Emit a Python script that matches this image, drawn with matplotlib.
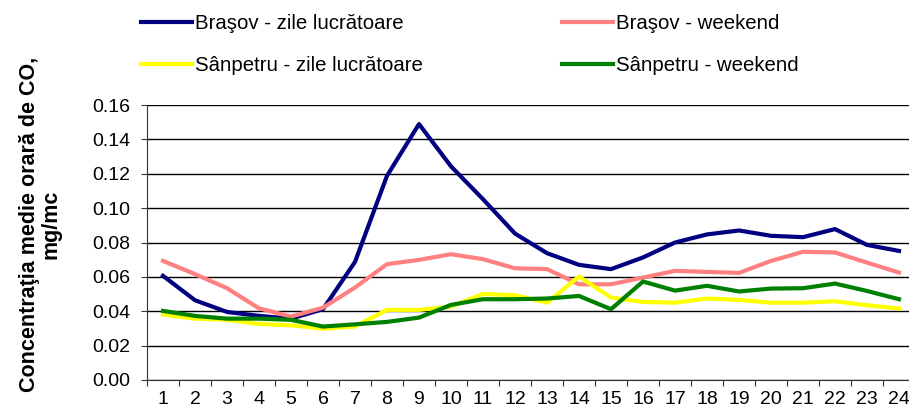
import numpy as np
import matplotlib.pyplot as plt

plt.rcParams['font.family'] = ['Liberation Sans', 'DejaVu Sans']

hours = [str(h) for h in range(1, 25)]

brasov_work = [0.0606, 0.0464, 0.0396, 0.0373, 0.0357, 0.0412, 0.0687, 0.1188,
               0.1489, 0.1243, 0.1052, 0.0852, 0.0738, 0.0670, 0.0645, 0.0713,
               0.0800, 0.0847, 0.0870, 0.0839, 0.0831, 0.0878, 0.0786, 0.0751]
brasov_weekend = [0.0693, 0.0616, 0.0534, 0.0417, 0.0369, 0.0421, 0.0538, 0.0674,
                  0.0699, 0.0732, 0.0703, 0.0650, 0.0645, 0.0557, 0.0557, 0.0596,
                  0.0635, 0.0629, 0.0623, 0.0693, 0.0746, 0.0742, 0.0683, 0.0625]
sanpetru_work = [0.0381, 0.0357, 0.0350, 0.0326, 0.0318, 0.0299, 0.0311, 0.0408,
                 0.0408, 0.0427, 0.0501, 0.0493, 0.0450, 0.0602, 0.0480, 0.0454,
                 0.0450, 0.0474, 0.0466, 0.0450, 0.0450, 0.0458, 0.0435, 0.0416]
sanpetru_weekend = [0.0402, 0.0373, 0.0357, 0.0357, 0.0350, 0.0311, 0.0324, 0.0338,
                    0.0363, 0.0437, 0.0470, 0.0470, 0.0474, 0.0489, 0.0412, 0.0573,
                    0.0520, 0.0548, 0.0515, 0.0532, 0.0534, 0.0561, 0.0518, 0.0470]

fig = plt.figure(figsize=(9.09, 4.08), dpi=100)
ax = fig.add_axes([147 / 909, 28 / 408, 768 / 909, 275 / 408])

x = np.arange(len(hours))
l1, = ax.plot(x, brasov_work, color='#000080', lw=3, label='Braşov - zile lucrătoare')
l2, = ax.plot(x, brasov_weekend, color='#FF8080', lw=3, label='Braşov - weekend')
l3, = ax.plot(x, sanpetru_work, color='#FFFF00', lw=3, label='Sânpetru - zile lucrătoare')
l4, = ax.plot(x, sanpetru_weekend, color='#008000', lw=3, label='Sânpetru - weekend')

ax.set_xlim(-0.5, len(hours) - 0.5)
ax.set_ylim(0, 0.16)
yt = np.arange(0, 0.161, 0.02)
ax.set_yticks(yt)
ax.set_yticklabels(['%.2f' % v for v in yt], fontsize=14)
ax.yaxis.grid(True, color='black', lw=1)
ax.set_axisbelow(True)

# ticks between categories, labels centred on categories
ax.set_xticks(np.arange(-0.5, len(hours)), minor=False)
ax.set_xticklabels([])
ax.set_xticks(x, minor=True)
ax.set_xticklabels(hours, minor=True, fontsize=14)
ax.tick_params(axis='x', which='minor', length=0, pad=8)
ax.tick_params(axis='x', which='major', length=4.3, color='#333333', direction='out')
ax.tick_params(axis='y', length=4.3, color='#333333', direction='out', pad=8)

for s in ['top', 'right']:
    ax.spines[s].set_visible(False)
ax.spines['left'].set_color('#333333')
ax.spines['bottom'].set_color('#333333')

fig.text(0.044, 0.451, 'Concentraţia medie orară de CO,\nmg/mc', rotation=90,
         ha='center', va='center', fontsize=15.5, fontweight='bold',
         multialignment='center', linespacing=1.05)

fig.legend([l1, l3, l2, l4], [l1.get_label(), l3.get_label(), l2.get_label(), l4.get_label()],
           ncol=2, loc='upper left', bbox_to_anchor=(141 / 909, 1 - 14 / 408), frameon=False,
           borderpad=0, borderaxespad=0, fontsize=14.7, handlelength=2.5, handletextpad=0.15,
           labelspacing=1.14, columnspacing=6.8)

fig.savefig('out.png', dpi=100)
